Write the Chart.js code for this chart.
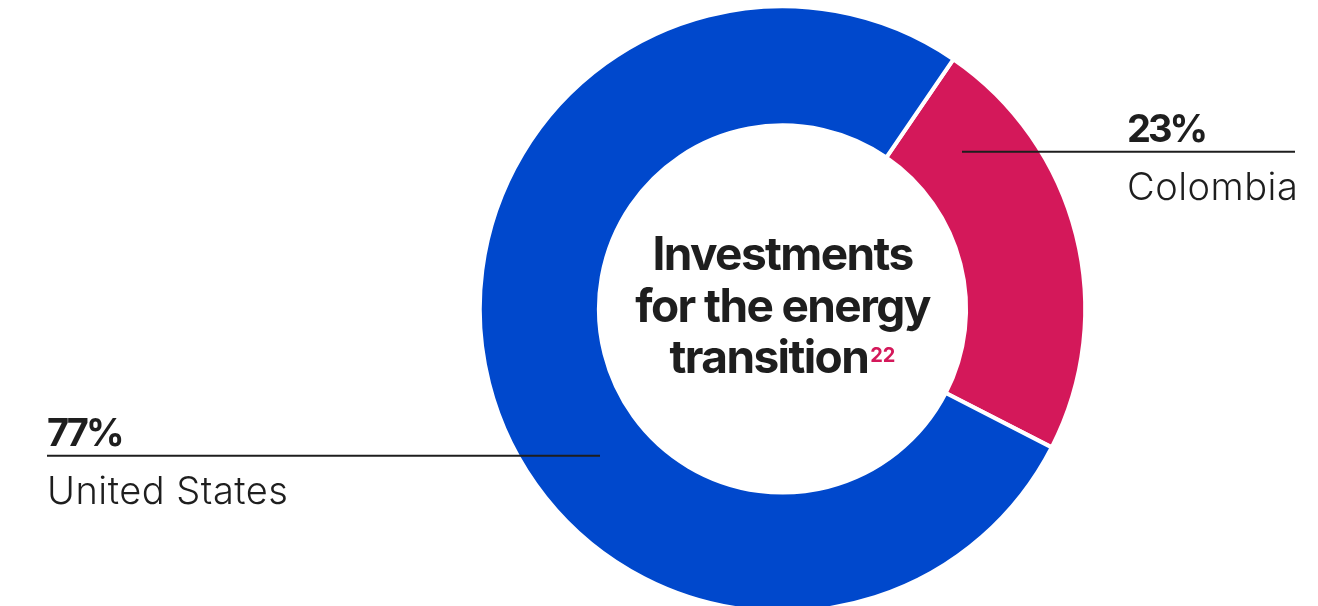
<!DOCTYPE html>
<html>
  <head>
    <title>Investments for the energy transition</title>
    <script src="https://cdn.jsdelivr.net/npm/chart.js"></script>
    <style>
      html, body { margin: 0; padding: 0; background: #fff; }
      #wrap { width: 1318px; height: 606px; position: relative; }
    </style>
  </head>
  <body>
    <div id="wrap"><canvas id="investChart"></canvas></div>

    <script>
      // share of investments by country
      const countries = ["Colombia", "United States"];
      const shares = [23, 77];
      const sliceColors = ["#d4185a", "#0048cc"];

      const titleLines = ["Investments", "for the energy", "transition"];
      const footnote = "22";

      const ink = "#1e1e1e";
      const fontFamily = "Inter, 'Noto Sans', sans-serif";

      // where each country's callout sits: line from x1 to x2 at y, text starts at textX
      const callouts = [
        { x1: 962, x2: 1295, y: 151.7, textX: 1127 },
        { x1: 47, x2: 600, y: 455.7, textX: 47 },
      ];

      const calloutPlugin = {
        id: "callouts",
        afterDatasetsDraw(chart) {
          const ctx = chart.ctx;
          const arc = chart.getDatasetMeta(0).data[0];
          const cx = arc.x;
          const cy = arc.y;

          ctx.save();

          // center title
          ctx.fillStyle = ink;
          ctx.textBaseline = "alphabetic";
          ctx.textAlign = "left";
          const baselines = [cy - 39, cy + 12.7, cy + 64.3];
          titleLines.forEach((line, i) => {
            ctx.font = "700 46px " + fontFamily;
            ctx.letterSpacing = "-1.6px";
            const w = ctx.measureText(line).width;
            if (i < titleLines.length - 1) {
              ctx.fillText(line, cx - w / 2, baselines[i]);
              return;
            }
            // last line carries the footnote mark
            ctx.font = "700 20px " + fontFamily;
            ctx.letterSpacing = "0px";
            const fw = ctx.measureText(footnote).width;
            const x = cx - (w + 2 + fw) / 2;
            ctx.fillStyle = sliceColors[0];
            ctx.fillText(footnote, x + w + 2, baselines[i] - 11);
            ctx.fillStyle = ink;
            ctx.font = "700 46px " + fontFamily;
            ctx.letterSpacing = "-1.6px";
            ctx.fillText(line, x, baselines[i]);
          });

          // leader lines and labels
          countries.forEach((name, i) => {
            const c = callouts[i];
            ctx.strokeStyle = ink;
            ctx.lineWidth = 2;
            ctx.beginPath();
            ctx.moveTo(c.x1, c.y);
            ctx.lineTo(c.x2, c.y);
            ctx.stroke();

            ctx.fillStyle = ink;
            ctx.font = "700 38px " + fontFamily;
            ctx.letterSpacing = "-3px";
            ctx.fillText(shares[i] + "%", c.textX, c.y - 10);

            ctx.font = "300 38px " + fontFamily;
            ctx.letterSpacing = "0.5px";
            ctx.fillText(name, c.textX, c.y + 48.5);
          });

          ctx.restore();
        },
      };

      new Chart(document.getElementById("investChart"), {
        type: "doughnut",
        data: {
          labels: countries,
          datasets: [
            {
              data: shares,
              backgroundColor: sliceColors,
              borderColor: "#ffffff",
              borderWidth: 4,
            },
          ],
        },
        options: {
          responsive: true,
          maintainAspectRatio: false,
          animation: false,
          events: [],
          rotation: 34.4,
          radius: 302.7,
          cutout: "60.65%",
          layout: { padding: { left: 247, right: 0, top: 12, bottom: 0 } },
          plugins: {
            legend: { display: false },
            tooltip: { enabled: false },
          },
        },
        plugins: [calloutPlugin],
      });
    </script>
  </body>
</html>
